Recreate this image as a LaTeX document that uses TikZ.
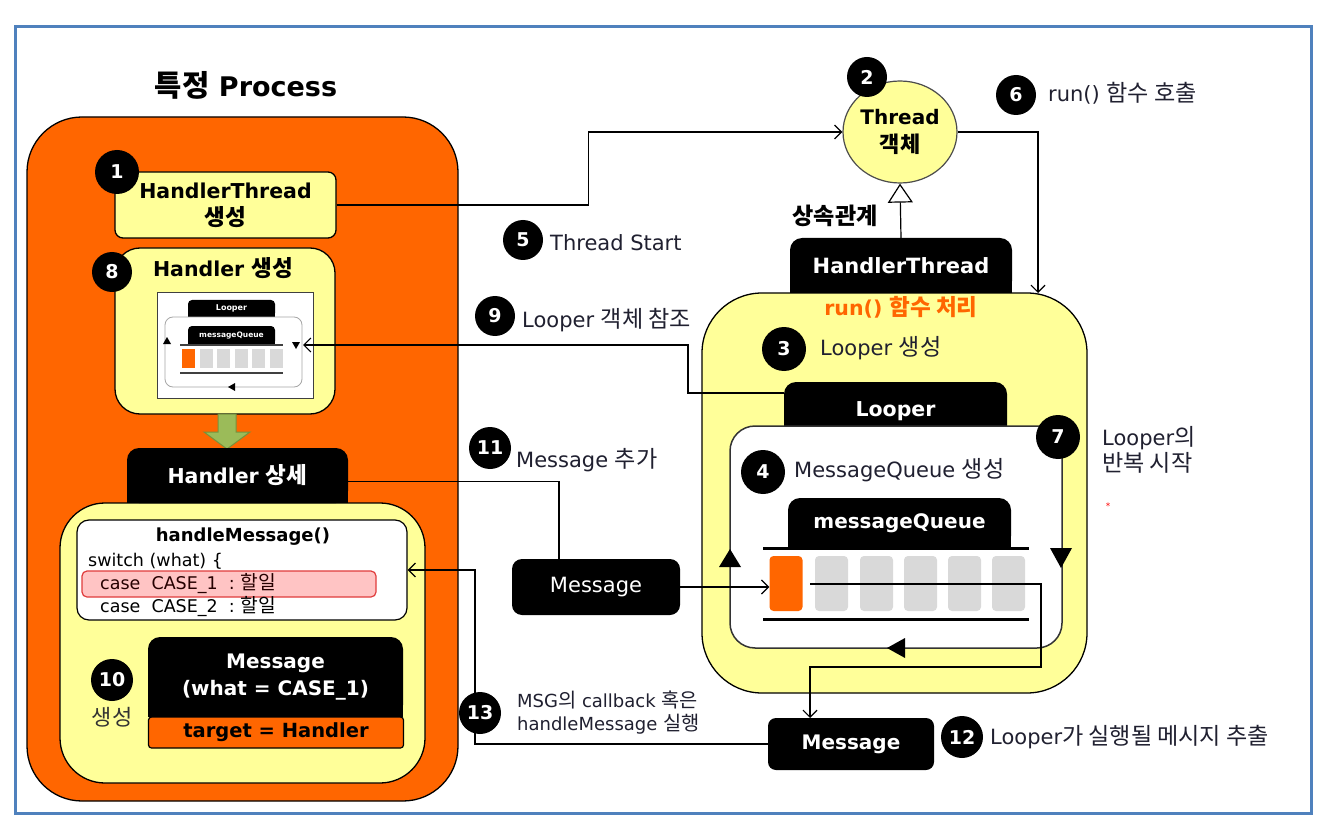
\documentclass[tikz,border=0pt]{standalone}
\usepackage{fontspec}
\setmainfont{DejaVu Sans}
\newfontfamily\kr[Scale=1.1]{Noto Sans CJK KR}
\usetikzlibrary{arrows.meta,shapes.geometric,calc}
\newcommand\K[1]{{\kr #1}}
\newcommand\fs[2]{\fontsize{#1}{#2}\selectfont}
\definecolor{orng}{HTML}{FF6600}
\definecolor{lyel}{HTML}{FFFF99}
\definecolor{frameblue}{HTML}{4F81BD}
\definecolor{grn}{HTML}{9BBB59}
\definecolor{grnd}{HTML}{76923C}
\definecolor{pinkf}{HTML}{FFC4C4}
\definecolor{redb}{HTML}{E03C3C}
\definecolor{cellg}{HTML}{D9D9D9}
\definecolor{txt}{HTML}{202030}
% tab: name, cx, cy, w, h, font, text, radius
\newcommand\tabnode[8]{%
  \node[fill=black, rounded corners=#8pt, minimum width=#4pt, minimum height=#5pt, inner sep=0pt] (#1) at (#2,#3) {};
  \fill[black] (#1.west) rectangle (#1.south east);
  \node[text=white, font=#6, align=center, inner sep=0pt] (#1t) at (#1) {#7};}
\begin{document}
\begin{tikzpicture}[x=1pt,y=-1pt,
  num/.style={circle, fill=black, text=white, inner sep=0pt, minimum size=40pt, font=\fs{19}{19}\bfseries},
  yb/.style={draw=black, fill=lyel, line width=1.3pt, inner sep=0pt},
  lbl/.style={anchor=west, inner sep=0pt, text=txt, font=\fs{21}{26}, align=left},
  ln/.style={draw=black, line width=1.2pt},
  arr/.style={ln, -{Straight Barb[length=7pt,width=14pt]}},
  cell/.style={fill=cellg, rounded corners=4pt, minimum width=33pt, minimum height=55pt, inner sep=0pt},
  mcell/.style={fill=cellg, minimum width=13pt, minimum height=19pt, inner sep=0pt},
  tri/.style={fill=black}]
\useasboundingbox (0,0) rectangle (1325,826);
\fill[white] (0,0) rectangle (1325,826);
\draw[frameblue, line width=3pt] (15,27) rectangle (1311,813);

% ---------- left: process ----------
\node[font=\fs{27}{30}\bfseries, text=black] (title) at (246,85) {\K{특정} Process};
\node[draw=black, fill=orng, line width=1.3pt, rounded corners=55pt, minimum width=431pt, minimum height=684pt, inner sep=0pt] (proc) at (242.5,459) {};

\node[yb, rounded corners=8pt, minimum width=221pt, minimum height=66pt, align=center, font=\fs{20.5}{27}\bfseries] (ht) at (225.5,205) {HandlerThread\\\K{생성}};

\node[yb, rounded corners=25pt, minimum width=220pt, minimum height=166pt] (hc) at (225,331) {};
\node[font=\fs{20.5}{24}\bfseries, inner sep=0pt] (hct) at (223,268) {Handler \K{생성}};

% mini picture
\node[draw=black!75, fill=white, line width=0.8pt, minimum width=156pt, minimum height=106pt, inner sep=0pt] (mini) at (235,345) {};
\tabnode{mlt}{231.5}{308.5}{87}{17}{\fs{8}{8}\bfseries}{Looper}{4}
\node[draw=black!35, fill=white, line width=0.8pt, rounded corners=8pt, minimum width=137pt, minimum height=70pt, inner sep=0pt] (mloop) at (233.5,352) {};
\tabnode{mqt}{231.5}{335.5}{87}{19}{\fs{7.5}{8}\bfseries}{messageQueue}{4}
\draw[black!75, line width=1.2pt] (180,345) -- (283,345);
\draw[black!75, line width=1.2pt] (180,373) -- (283,373);
\node[mcell, fill=orng] (mq0) at (188.5,358.5) {};
\foreach \cx in {206,223.5,241,258.5,276} \node[mcell] at (\cx,358.5) {};
\fill[tri] (167,337) -- (163,344) -- (171,344) -- cycle;
\fill[tri] (296,349) -- (292,342) -- (300,342) -- cycle;
\fill[tri] (228,387) -- (235,383) -- (235,391) -- cycle;

% green arrow
\draw[grnd, fill=grn, line width=1pt] (218,414) -- (236,414) -- (236,432) -- (250,432) -- (227,449) -- (204,432) -- (218,432) -- cycle;

% handler detail
\node[yb, rounded corners=45pt, minimum width=365pt, minimum height=280pt] (hd) at (242.5,643) {};
\tabnode{hst}{237.5}{475.5}{221}{55}{\fs{20.5}{24}\bfseries}{Handler \K{상세}}{12}

\node[draw=black, fill=white, line width=1.2pt, rounded corners=12pt, minimum width=330pt, minimum height=100pt, inner sep=0pt] (hm) at (242,570) {};
\node[font=\fs{18}{20}\bfseries, inner sep=0pt] (hmt) at (243,537) {handleMessage()};
\node[anchor=west, font=\fs{17.5}{20}, inner sep=0pt] (sw) at (88,561) {switch (what) \{};
\node[draw=redb, fill=pinkf, line width=1.2pt, rounded corners=5pt, minimum width=294pt, minimum height=26pt, inner sep=0pt] (pk) at (229,584) {};
\node[anchor=west, font=\fs{17.5}{20}, inner sep=0pt, text=black!85!red] (c1) at (100,584) {case\ \ CASE\_1\ \ :\ \K{할일}};
\node[anchor=west, font=\fs{17.5}{20}, inner sep=0pt] (c2) at (100,607) {case\ \ CASE\_2\ \ :\ \K{할일}};

\node[font=\fs{20}{24}, text=black!80, inner sep=0pt] (gen) at (112,717) {\K{생성}};
\tabnode{m10}{275.5}{677}{255}{80}{\fs{20}{27}\bfseries}{Message\\(what = CASE\_1)}{12}
\node[draw=black, fill=orng, line width=1.2pt, rounded corners=3pt, minimum width=255pt, minimum height=31pt, inner sep=0pt, font=\fs{19.5}{22}\bfseries] (tg) at (276,732.5) {target = Handler};

% ---------- right ----------
\node[ellipse, draw=black!70, fill=lyel, line width=1.2pt, minimum width=114pt, minimum height=102pt, inner sep=0pt, align=center, font=\fs{20}{28}\bfseries] (th) at (900,132) {Thread\\\K{객체}};

\node[yb, rounded corners=60pt, minimum width=385pt, minimum height=400pt] (rb) at (894.5,493) {};
\tabnode{htt}{901}{265.5}{222}{55}{\fs{21}{24}\bfseries}{HandlerThread}{12}
\node[font=\fs{20.5}{24}\bfseries, text=orng, inner sep=0pt] (runt) at (901,307) {run() \K{함수 처리}};
\node[lbl] (l3) at (820,348) {Looper \K{생성}};

\tabnode{lpt}{895.5}{411}{223}{58}{\fs{20}{24}\bfseries}{}{12}
\node[text=white, font=\fs{20.5}{24}\bfseries, inner sep=0pt] (lptx) at (895.5,411) {Looper};
\node[draw=black!80, fill=white, line width=1.5pt, rounded corners=25pt, minimum width=332pt, minimum height=222pt, inner sep=0pt] (wb) at (896,537) {};
\node[lbl] (l4) at (794,470) {MessageQueue \K{생성}};
\tabnode{mqT}{899.5}{523}{223}{50}{\fs{20}{24}\bfseries}{messageQueue}{12}
\draw[black, line width=3pt] (763,548) -- (1029,548);
\draw[black, line width=3pt] (763,619) -- (1029,619);
\node[cell, fill=orng] (q0) at (786,583.5) {};
\node[cell] (q1) at (831.5,583.5) {};
\node[cell] (q2) at (876.5,583.5) {};
\node[cell] (q3) at (920.5,583.5) {};
\node[cell] (q4) at (964.5,583.5) {};
\node[cell] (q5) at (1008.5,583.5) {};
\fill[tri] (730,549) -- (719,567) -- (741,567) -- cycle;
\fill[tri] (1061,568) -- (1050,548) -- (1072,548) -- cycle;
\fill[tri] (887,648) -- (905,638) -- (905,658) -- cycle;

% messages
\node[fill=black, rounded corners=10pt, minimum width=168pt, minimum height=56pt, inner sep=0pt, text=white, font=\fs{21}{24}] (m11) at (596,587) {Message};
\node[fill=black, rounded corners=8pt, minimum width=166pt, minimum height=52pt, inner sep=0pt, text=white, font=\fs{20}{24}\bfseries] (m12) at (851,744) {Message};

% text labels
\node[lbl] (l5) at (550,243) {Thread Start};
\node[lbl] (l6) at (1048,93) {run() \K{함수 호출}};
\node[font=\fs{21}{24}\bfseries, inner sep=0pt] (inh) at (835,216) {\K{상속관계}};
\node[lbl] (l9) at (522,320) {Looper \K{객체 참조}};
\node[lbl] (l11) at (516,460) {Message \K{추가}};
\node[lbl] (l7) at (1102,450) {Looper\K{의}\\\K{반복 시작}};
\node[text=red, font=\fs{9}{9}, inner sep=0pt] (star) at (1108,506) {*};
\node[lbl] (l12) at (990,737) {Looper\K{가 실행될 메시지 추출}};
\node[lbl, font=\fs{18}{23}] (l13) at (517,713) {MSG\K{의} callback \K{혹은}\\handleMessage \K{실행}};

% ---------- connectors ----------
\draw[arr] (ht.east) -- ++(252,0) |- (th.west);
\coordinate (c6) at (1038,293);
\draw[arr] (th.east) -| (c6);
\draw[ln, -{Triangle[open, length=19pt, width=25pt]}] (htt.north) -- (th.south);
\coordinate (c9s) at (784,393);
\coordinate (c9e) at (303,345);
\draw[arr] (c9s) -- (688,393) |- (c9e);
\coordinate (m11in) at (559,559);
\draw[ln] ($(hst.east)+(0,6)$) -| (m11in);
\draw[arr] (m11.east) -- (m11.east -| q0.west);
\coordinate (q12s) at (810,584);
\coordinate (m12in) at (810,718);
\draw[arr] (q12s) -- (1041,584) -- (1041,667) -- (810,667) -- (m12in);
\coordinate (c13) at (475,744);
\draw[arr] (m12.west) -- (c13) |- (hm.east);

% ---------- number badges (on top) ----------
\node[num, minimum size=44pt] (n1) at (117,172) {1};
\node[num] (n8) at (112,272) {8};
\node[num, minimum size=42pt] (n10) at (112,680) {10};
\node[num] (n2) at (867,77) {2};
\node[num, minimum size=44pt] (n3) at (784,349) {3};
\node[num, minimum size=44pt] (n7) at (1058,437) {7};
\node[num, minimum size=44pt] (n4) at (763,472) {4};
\node[num] (n5) at (523,240) {5};
\node[num] (n6) at (1016,95) {6};
\node[num] (n9) at (495,316) {9};
\node[num, minimum size=42pt] (n11) at (490,448) {11};
\node[num, minimum size=42pt] (n12) at (962,737) {12};
\node[num, minimum size=42pt] (n13) at (480,713) {13};
\end{tikzpicture}
\end{document}
